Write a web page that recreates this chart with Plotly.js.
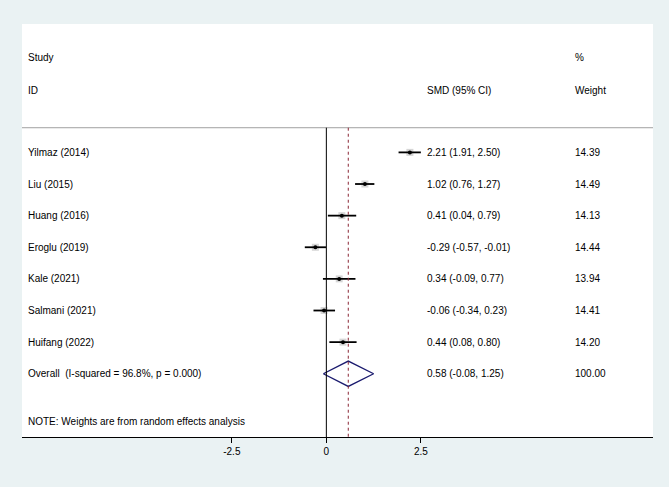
<!DOCTYPE html>
<html>
<head>
<meta charset="utf-8">
<script src="https://cdn.plot.ly/plotly-3.0.1.min.js"></script>
<style>html,body{margin:0;padding:0;background:#EAF2F3;}#chart{width:669px;height:487px;}</style>
</head>
<body>
<div id="chart"></div>
<script>
const studies = ["Yilmaz (2014)", "Liu (2015)", "Huang (2016)", "Eroglu (2019)", "Kale (2021)", "Salmani (2021)", "Huifang (2022)"];
const smd = [2.21, 1.02, 0.41, -0.29, 0.34, -0.06, 0.44];
const ciLow = [1.91, 0.76, 0.04, -0.57, -0.09, -0.34, 0.08];
const ciHigh = [2.50, 1.27, 0.79, -0.01, 0.77, 0.23, 0.80];
const weights = [14.39, 14.49, 14.13, 14.44, 13.94, 14.41, 14.20];
const smdText = ["2.21 (1.91, 2.50)", "1.02 (0.76, 1.27)", "0.41 (0.04, 0.79)", "-0.29 (-0.57, -0.01)", "0.34 (-0.09, 0.77)", "-0.06 (-0.34, 0.23)", "0.44 (0.08, 0.80)"];
const weightText = ["14.39", "14.49", "14.13", "14.44", "13.94", "14.41", "14.20"];
const overallLabel = "Overall  (I-squared = 96.8%, p = 0.000)";
const overallEst = 0.58, overallLow = -0.08, overallHigh = 1.25;
const overallText = "0.58 (-0.08, 1.25)";
const overallWeight = "100.00";
const noteText = "NOTE: Weights are from random effects analysis";
const tickVals = [-2.5, 0, 2.5];
const tickLabels = ["-2.5", "0", "2.5"];

const rows = studies.map((s, i) => i + 1);
const overallRow = studies.length + 1;
const noteRow = overallRow + 1.5;

// CI lines
const ciX = [], ciY = [];
for (let i = 0; i < studies.length; i++) {
  ciX.push(ciLow[i], ciHigh[i], null);
  ciY.push(rows[i], rows[i], null);
}

const fontBase = {family: "Liberation Sans, Arial, sans-serif", size: 10, color: "#000"};

const traces = [
  {
    x: smd, y: rows, type: "scatter", mode: "markers",
    marker: {symbol: "square", size: weights.map(w => Math.sqrt(w) * 1.85), color: "#C4C4C4", line: {width: 0}},
    hoverinfo: "skip", showlegend: false
  },
  {
    x: ciX, y: ciY, type: "scatter", mode: "lines",
    line: {color: "#000", width: 1.8}, hoverinfo: "skip", showlegend: false
  },
  {
    x: smd, y: rows, type: "scatter", mode: "markers",
    marker: {symbol: "circle", size: 4, color: "#000"},
    hoverinfo: "skip", showlegend: false
  },
  {
    x: [overallLow, overallEst, overallHigh, overallEst, overallLow],
    y: [overallRow, overallRow - 0.4, overallRow, overallRow + 0.4, overallRow],
    type: "scatter", mode: "lines",
    line: {color: "#1A1A6E", width: 1.3}, hoverinfo: "skip", showlegend: false
  }
];

const annotations = [];
function addText(x, y, text) {
  annotations.push({xref: "paper", yref: "y", x: x, y: y, text: text, showarrow: false,
    xanchor: "left", yanchor: "middle", font: fontBase});
}
const colStudy = 0.0063, colSmd = 0.6387, colW = 0.8732;
addText(colStudy, -2, "Study");
addText(colStudy, -0.95, "ID");
addText(colSmd, -0.95, "SMD (95% CI)");
addText(colW, -2, "%");
addText(colW, -0.95, "Weight");
for (let i = 0; i < studies.length; i++) {
  addText(colStudy, rows[i], studies[i]);
  addText(colSmd, rows[i], smdText[i]);
  addText(colW, rows[i], weightText[i]);
}
addText(colStudy, overallRow, overallLabel);
addText(colSmd, overallRow, overallText);
addText(colW, overallRow, overallWeight);
addText(colStudy, noteRow, noteText);

const lineTop = 0.22;
const shapes = [
  {type: "line", xref: "paper", yref: "y", x0: 0, x1: 1, y0: lineTop, y1: lineTop, line: {color: "#A0A0A0", width: 1}},
  {type: "line", xref: "x", yref: "y", x0: 0, x1: 0, y0: lineTop, y1: 10, line: {color: "#000", width: 1}},
  {type: "line", xref: "x", yref: "y", x0: overallEst, x1: overallEst, y0: lineTop, y1: 10, line: {color: "#8B2635", width: 1, dash: "3px,3px"}}
];

const layout = {
  width: 669, height: 487,
  paper_bgcolor: "#EAF2F3", plot_bgcolor: "#FFFFFF",
  margin: {l: 22, r: 16, t: 24, b: 50},
  showlegend: false,
  font: fontBase,
  xaxis: {
    range: [-8.05, 8.64], tickvals: tickVals, ticktext: tickLabels,
    showgrid: false, zeroline: false, showline: true, linecolor: "#000", linewidth: 1,
    ticks: "outside", ticklen: 5, tickcolor: "#000", tickwidth: 1,
    tickfont: fontBase, fixedrange: true
  },
  yaxis: {
    range: [10, -3.06], showgrid: false, zeroline: false, showticklabels: false,
    showline: false, ticks: "", fixedrange: true
  },
  shapes: shapes,
  annotations: annotations
};

Plotly.newPlot("chart", traces, layout, {displayModeBar: false, staticPlot: true});
</script>
</body>
</html>
